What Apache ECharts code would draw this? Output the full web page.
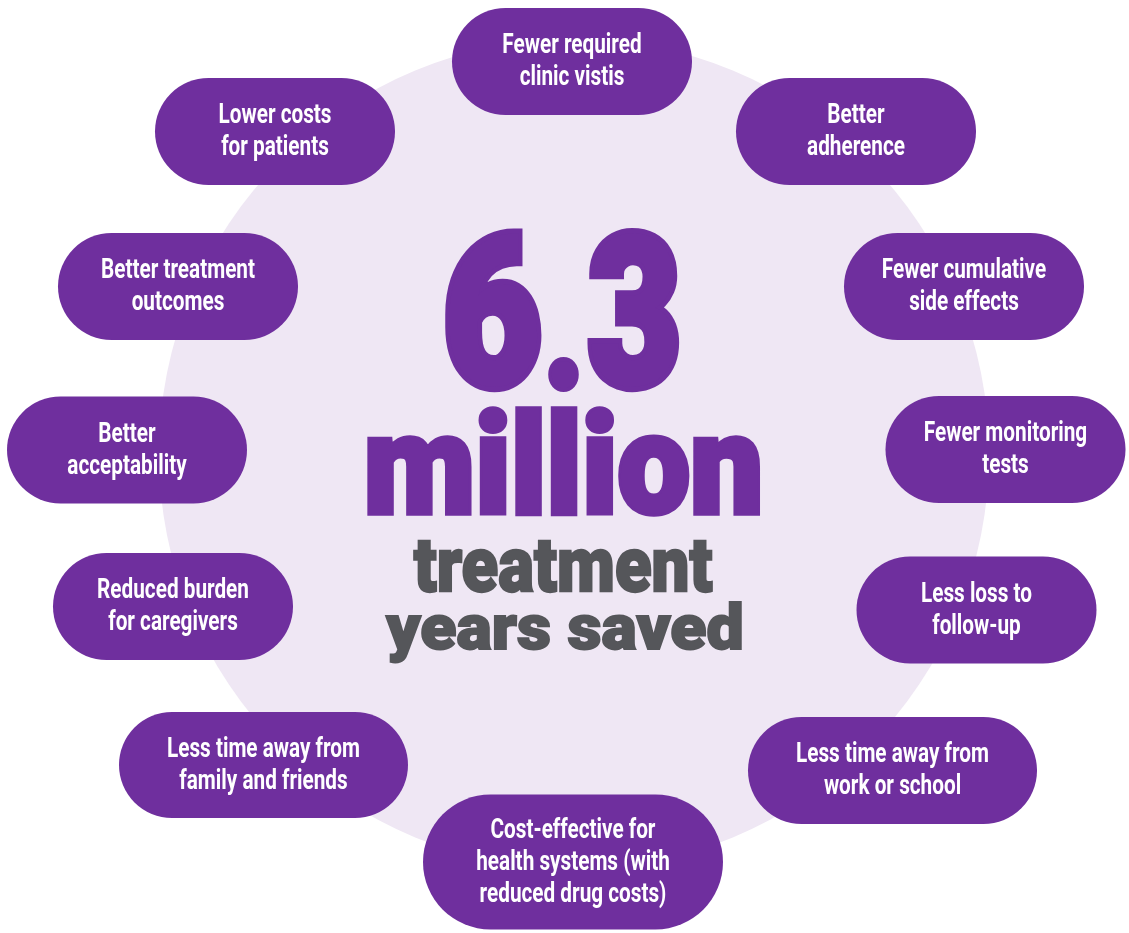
<!DOCTYPE html>
<html>
<head>
<meta charset="utf-8">
<script src="https://cdn.jsdelivr.net/npm/echarts@6/dist/echarts.min.js"></script>
<style>
  html, body { margin: 0; padding: 0; background: #ffffff; }
  #chart { width: 1129px; height: 933px; }
</style>
</head>
<body>
<div id="chart"></div>
<script>
// ---- content (data) ----
const pillLabels = [
  'Fewer required\nclinic vistis',
  'Better\nadherence',
  'Fewer cumulative\nside effects',
  'Fewer monitoring\ntests',
  'Less loss to\nfollow-up',
  'Less time away from\nwork or school',
  'Cost-effective for\nhealth systems (with\nreduced drug costs)',
  'Less time away from\nfamily and friends',
  'Reduced burden\nfor caregivers',
  'Better\nacceptability',
  'Better treatment\noutcomes',
  'Lower costs\nfor patients'
];
const headlineValue = '6.3';
const headlineUnit = 'million';
const captionLines = ['treatment', 'years saved'];

// ---- layout (positions / sizes, not data) ----
const pillLayout = [
  [572, 61.5, 240, 107],
  [856, 131.5, 240, 107],
  [964, 286.5, 240, 107],
  [1005.5, 449.5, 240, 107],
  [976.5, 610, 240, 107],
  [892.5, 770.5, 289, 107],
  [573, 862, 300, 135],
  [263.5, 765, 289, 106],
  [173, 606.5, 240, 107],
  [127, 450, 240, 107],
  [178, 286.5, 240, 107],
  [275, 131.5, 240, 107]
];
// ink boxes of the headline glyphs "6", ".", "3"
const headlineGlyphBoxes = [
  [445, 227, 542, 392],
  [548, 356, 579, 392],
  [587, 227, 680, 392]
];
const PURPLE = '#6f2f9e';
const GRAY = '#55565a';
const CIRCLE = '#efe7f4';

const mctx = document.createElement('canvas').getContext('2d');

// fit a single-line text's ink box (plus stroke) into a target box
function fitText(str, font, box, lw) {
  mctx.font = font;
  mctx.textAlign = 'center';
  mctx.textBaseline = 'middle';
  const m = mctx.measureText(str);
  const l = m.actualBoundingBoxLeft, r = m.actualBoundingBoxRight;
  const a = m.actualBoundingBoxAscent, d = m.actualBoundingBoxDescent;
  const sx = (box[2] - box[0]) / (l + r + lw);
  const sy = (box[3] - box[1]) / (a + d + lw);
  return { x: box[0] + (l + lw / 2) * sx, y: box[1] + (a + lw / 2) * sy, scaleX: sx, scaleY: sy };
}

// pill text font: size from cap height, x scale from measured widths
const PILL_FAMILY = "Roboto, 'Liberation Sans', sans-serif";
mctx.textBaseline = 'alphabetic';
mctx.textAlign = 'left';
mctx.font = 'bold 100px ' + PILL_FAMILY;
const capRatio = mctx.measureText('H').actualBoundingBoxAscent / 100;
const pillFs = 19.5 / capRatio;
mctx.font = 'bold ' + pillFs + 'px ' + PILL_FAMILY;
const w1 = mctx.measureText('Lower costs').width;
const w2 = mctx.measureText('Less time away from').width;
const pillScaleX = (113 / w1 + 193 / w2) / 2;

const BIG_FONT = "900 200px Roboto, 'DejaVu Sans', sans-serif";
const bigItems = [];
headlineValue.split('').forEach(function (ch, k) {
  bigItems.push([ch, headlineGlyphBoxes[k], PURPLE, 10]);
});
bigItems.push([headlineUnit, [367, 405, 760, 517], PURPLE, 8]);
bigItems.push([captionLines[0], [413, 540, 713, 593], GRAY, 6]);
bigItems.push([captionLines[1], [385, 600, 742, 663], GRAY, 6]);

const centerTexts = bigItems.map(function (b) {
  const f = fitText(b[0], BIG_FONT, b[1], b[3]);
  return {
    type: 'text',
    x: f.x, y: f.y, scaleX: f.scaleX, scaleY: f.scaleY,
    z: 1,
    style: {
      text: b[0],
      font: BIG_FONT,
      fill: b[2],
      stroke: b[2],
      lineWidth: b[3],
      lineJoin: 'miter',
      textAlign: 'center',
      textVerticalAlign: 'middle',
      verticalAlign: 'middle'
    }
  };
});

const chart = echarts.init(document.getElementById('chart'), null, { renderer: 'canvas' });
chart.setOption({
  animation: false,
  backgroundColor: '#ffffff',
  graphic: [
    { type: 'circle', shape: { cx: 574, cy: 454, r: 415 }, style: { fill: CIRCLE }, z: 0 }
  ].concat(centerTexts),
  series: [{
    type: 'custom',
    coordinateSystem: 'none',
    data: pillLabels.map(function (t, i) { return [i]; }),
    renderItem: function (params, api) {
      const i = params.dataIndex;
      const L = pillLayout[i];
      const w = L[2], h = L[3];
      return {
        type: 'group',
        children: [
          {
            type: 'rect',
            shape: { x: L[0] - w / 2, y: L[1] - h / 2, width: w, height: h, r: h / 2 },
            style: { fill: PURPLE }
          },
          {
            type: 'text',
            x: L[0], y: L[1] + 1,
            scaleX: pillScaleX,
            style: {
              text: pillLabels[i],
              fontFamily: PILL_FAMILY,
              fontWeight: 'bold',
              fontSize: pillFs,
              lineHeight: 32,
              fill: '#ffffff',
              align: 'center',
              verticalAlign: 'middle',
              textAlign: 'center',
              textVerticalAlign: 'middle'
            }
          }
        ]
      };
    }
  }]
});
</script>
</body>
</html>
